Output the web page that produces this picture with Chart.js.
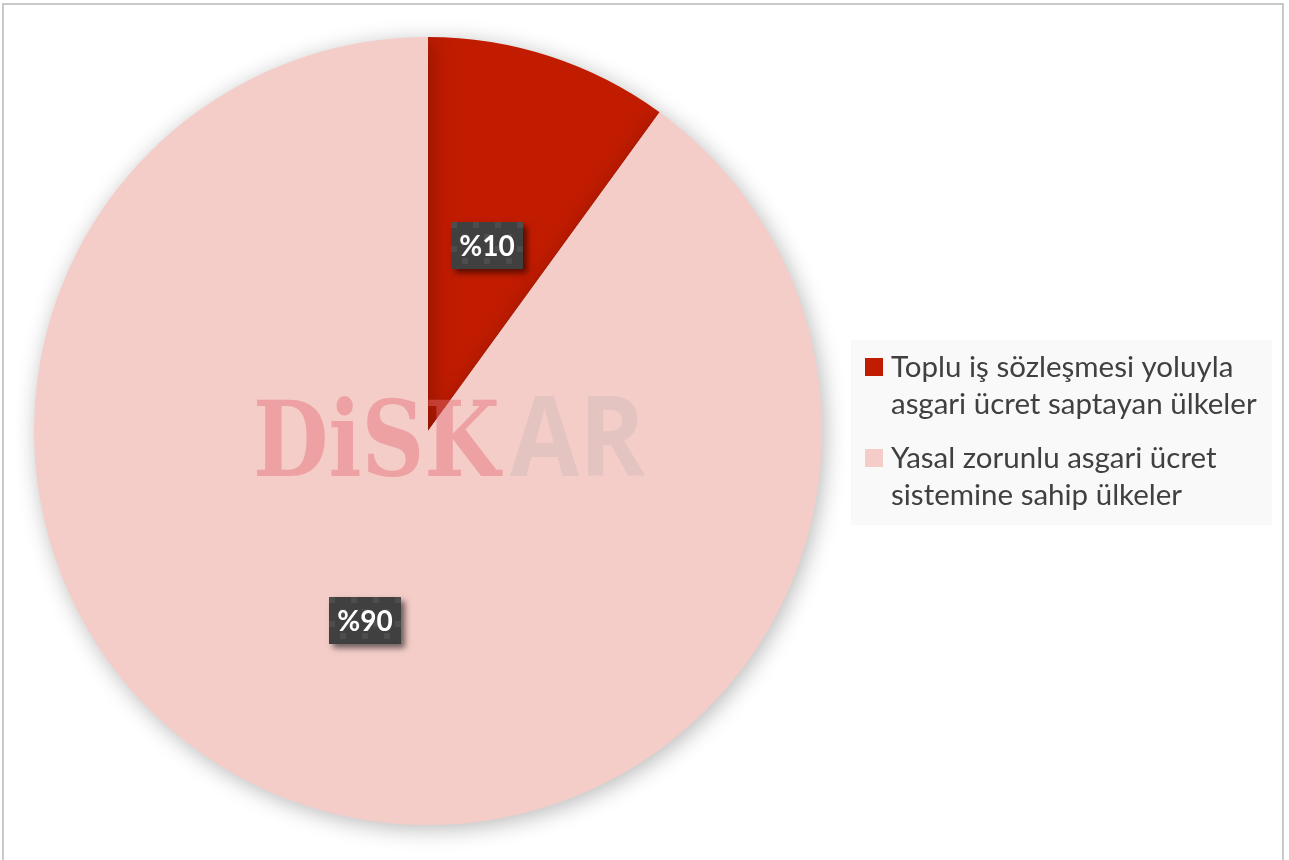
<!DOCTYPE html>
<html>
<head>
<meta charset="utf-8">
<script src="https://cdn.jsdelivr.net/npm/chart.js@4.4.1/dist/chart.umd.min.js"></script>
<style>
  html, body { margin: 0; padding: 0; background: #ffffff; }
  #wrap { position: relative; width: 1289px; height: 860px; overflow: hidden; }
  #frame { position: absolute; left: 2px; top: 3px; width: 1282px; height: 900px; border: 2px solid #c9c9c9; box-sizing: border-box; pointer-events: none; }
  canvas { position: absolute; left: 0; top: 0; }
</style>
</head>
<body>
<div id="wrap">
  <canvas id="c" width="1289" height="860"></canvas>
  <div id="frame"></div>
</div>
<script>
// ---- data ----
const categories = [
  ['Toplu iş sözleşmesi yoluyla', 'asgari ücret saptayan ülkeler'],
  ['Yasal zorunlu asgari ücret', 'sistemine sahip ülkeler']
];
const shares = [10, 90];
const sliceColors = ['#C11C00', '#F4CDC8'];
const valuePrefix = '%';

// shadow under the pie
const pieShadow = {
  id: 'pieShadow',
  beforeDatasetsDraw(chart) {
    const ctx = chart.ctx;
    ctx.save();
    ctx.shadowColor = 'rgba(0,0,0,0.28)';
    ctx.shadowBlur = 22;
    ctx.shadowOffsetX = 3;
    ctx.shadowOffsetY = 4;
  },
  afterDatasetsDraw(chart) {
    chart.ctx.restore();
  }
};

// watermark logo
const watermark = {
  id: 'watermark',
  afterDatasetsDraw(chart) {
    const ctx = chart.ctx;
    ctx.save();
    ctx.textBaseline = 'alphabetic';
    ctx.textAlign = 'left';
    ctx.font = 'bold 104px "DejaVu Serif"';
    const w1 = ctx.measureText('DiSK').width;
    ctx.save();
    ctx.translate(253, 476);
    ctx.scale(247 / w1, 1);
    ctx.fillStyle = 'rgba(228,108,116,0.45)';
    ctx.fillText('DiSK', 0, 0);
    ctx.restore();
    ctx.font = 'bold 112px "Open Sans"';
    const w2 = ctx.measureText('AR').width;
    ctx.save();
    ctx.translate(510, 476);
    ctx.scale(135 / w2, 1);
    ctx.fillStyle = 'rgba(195,178,176,0.32)';
    ctx.fillText('AR', 0, 0);
    ctx.restore();
    ctx.restore();
  }
};

// value labels in dark boxes
function makePattern(ctx) {
  const t = document.createElement('canvas');
  t.width = 22; t.height = 24;
  const g = t.getContext('2d');
  g.fillStyle = '#404040';
  g.fillRect(0, 0, 22, 24);
  g.fillStyle = '#4d4d4d';
  g.fillRect(0, 0, 6, 6);
  g.fillRect(11, 12, 6, 6);
  return ctx.createPattern(t, 'repeat');
}
const valueBoxes = {
  id: 'valueBoxes',
  afterDraw(chart) {
    const ctx = chart.ctx;
    const meta = chart.getDatasetMeta(0);
    const ds = chart.data.datasets[0];
    const pat = makePattern(ctx);
    meta.data.forEach((arc, i) => {
      const p = arc.getProps(['x', 'y', 'startAngle', 'endAngle', 'outerRadius'], true);
      const mid = (p.startAngle + p.endAngle) / 2;
      const r = p.outerRadius * 0.5;
      const cx = p.x + Math.cos(mid) * r - 2;
      const cy = p.y + Math.sin(mid) * r + 2;
      const txt = valuePrefix + ds.data[i];
      ctx.save();
      ctx.font = 'bold 28px Lato';
      const bw = 72, bh = 47;
      const x0 = Math.round(cx - bw / 2), y0 = Math.round(cy - bh / 2);
      ctx.shadowColor = 'rgba(0,0,0,0.55)';
      ctx.shadowBlur = 6;
      ctx.shadowOffsetX = 4;
      ctx.shadowOffsetY = 4;
      ctx.fillStyle = '#404040';
      ctx.fillRect(x0, y0, bw, bh);
      ctx.shadowColor = 'transparent';
      ctx.translate(x0, y0);
      ctx.fillStyle = pat;
      ctx.fillRect(0, 0, bw, bh);
      ctx.fillStyle = '#ffffff';
      ctx.textAlign = 'center';
      ctx.textBaseline = 'middle';
      ctx.fillText(txt, bw / 2, bh / 2 + 1);
      ctx.restore();
    });
  }
};

// legend on the right
const sideLegend = {
  id: 'sideLegend',
  afterDraw(chart) {
    const ctx = chart.ctx;
    const labels = chart.data.labels;
    const cols = chart.data.datasets[0].backgroundColor;
    ctx.save();
    ctx.fillStyle = '#F9F9F9';
    ctx.fillRect(851, 340, 421, 185);
    ctx.font = '29.5px Lato';
    ctx.textAlign = 'left';
    ctx.textBaseline = 'alphabetic';
    let base = 377;
    labels.forEach((lines, i) => {
      ctx.fillStyle = cols[i];
      ctx.fillRect(865, base - 19, 18, 18);
      ctx.fillStyle = '#404040';
      lines.forEach((ln, j) => {
        ctx.fillText(ln, 891, base + j * 36.5);
      });
      base += 91;
    });
    ctx.restore();
  }
};

new Chart(document.getElementById('c'), {
  type: 'pie',
  data: {
    labels: categories,
    datasets: [{
      data: shares,
      backgroundColor: sliceColors,
      borderWidth: 0
    }]
  },
  options: {
    responsive: false,
    animation: false,
    layout: { padding: { left: 34, right: 467, top: 37, bottom: 35 } },
    plugins: {
      legend: { display: false },
      tooltip: { enabled: false }
    }
  },
  plugins: [pieShadow, watermark, valueBoxes, sideLegend]
});
</script>
</body>
</html>
